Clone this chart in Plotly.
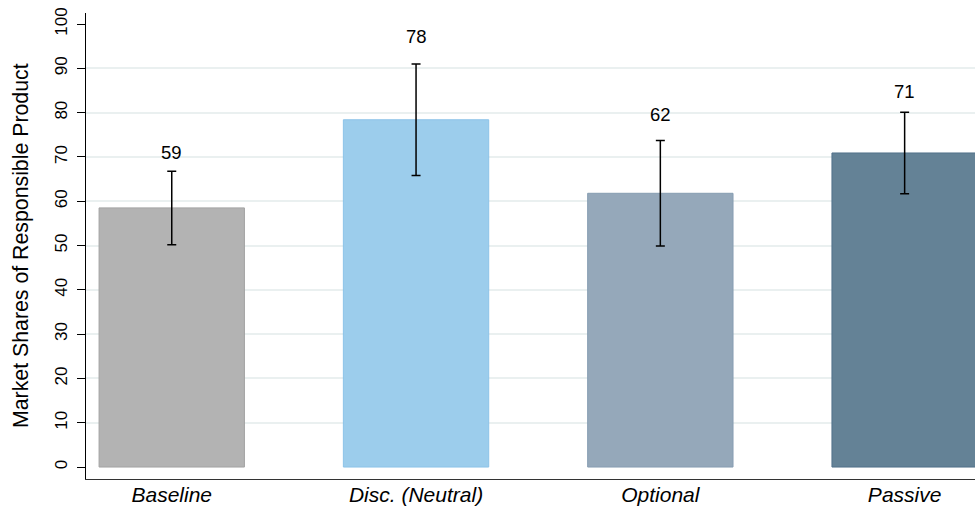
import plotly.graph_objects as go

categories = ["Baseline", "Disc. (Neutral)", "Optional", "Passive"]
shares = [58.5, 78.4, 61.8, 70.9]
ci_half = [8.3, 12.6, 11.9, 9.2]
labels = ["59", "78", "62", "71"]
y_ticks = list(range(0, 101, 10))
grid_ticks = list(range(10, 100, 10))

fills = ["#b3b3b3", "#9ccdec", "#95a8ba", "#648296"]
edges = ["#a3a3a3", "#8cc3e8", "#879db2", "#51718a"]

FONT = "Liberation Sans, Arial"

fig = go.Figure()
fig.add_trace(go.Bar(
    x=categories, y=shares, width=0.595,
    marker=dict(color=fills, line=dict(color=edges, width=1)),
    error_y=dict(type="data", array=ci_half, visible=True,
                 color="black", thickness=1.5, width=4.5),
    hoverinfo="skip",
))

for c, v, h, t in zip(categories, shares, ci_half, labels):
    fig.add_annotation(x=c, y=v + 1.5 * h, text=t, showarrow=False,
                       yanchor="middle", xanchor="center",
                       font=dict(family=FONT, size=18.5, color="black"))

fig.add_annotation(xref="paper", yref="paper", x=0, y=0.5, xshift=-65,
                   text="Market Shares of Responsible Product", textangle=-90,
                   showarrow=False, xanchor="center", yanchor="middle",
                   font=dict(family=FONT, size=21.3, color="black"))

fig.update_layout(
    width=975, height=509,
    margin=dict(l=86, r=0, t=13, b=30),
    paper_bgcolor="white", plot_bgcolor="white",
    showlegend=False,
    bargap=0.4,
    xaxis=dict(
        type="category", range=[-0.351, 3.288], automargin=False,
        showline=True, linecolor="#333333", linewidth=1.2,
        ticks="", showgrid=False, zeroline=False,
        tickfont=dict(family=FONT, size=21, color="black", style="italic"),
        ticklabelstandoff=-3,
    ),
    yaxis=dict(
        range=[-2.7, 102.5], tickvals=y_ticks, automargin=False,
        showline=True, linecolor="black", linewidth=1.2,
        ticks="outside", ticklen=8, tickcolor="black", tickwidth=1,
        tickangle=-90, ticklabelstandoff=3,
        tickfont=dict(family=FONT, size=17, color="black"),
        showgrid=False, zeroline=False,
        minor=dict(tickvals=grid_ticks, showgrid=True, gridcolor="#eaf0f0",
                   gridwidth=1.5, ticks=""),
    ),
)

fig.write_html(
    "out.html",
    config={"displayModeBar": False},
    post_script="document.body.style.margin='0';document.body.style.overflow='hidden';",
)
